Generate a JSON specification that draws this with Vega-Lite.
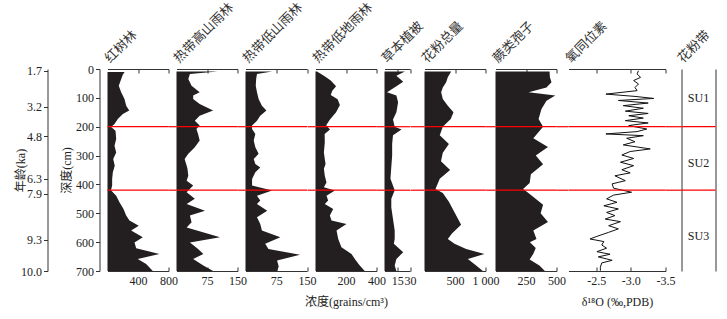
{
  "$schema": "https://vega.github.io/schema/vega-lite/v6.json",
  "padding": {"left": 14.5, "top": 0, "right": 5, "bottom": 2},
  "background": "white",
  "datasets": {
    "redlines": [{"depth": 200}, {"depth": 420}],
    "zones": [{"zone": "SU1", "depth": 100}, {"zone": "SU2", "depth": 325}, {"zone": "SU3", "depth": 580}],
    "mangrove": [{"d":10,"v":225},{"d":20,"v":200},{"d":35,"v":180},{"d":58,"v":148},{"d":81,"v":179},{"d":104,"v":223},{"d":127,"v":245},{"d":144,"v":285},{"d":156,"v":201},{"d":173,"v":135},{"d":191,"v":92},{"d":201,"v":48},{"d":214,"v":105},{"d":243,"v":114},{"d":266,"v":92},{"d":289,"v":114},{"d":312,"v":75},{"d":335,"v":95},{"d":358,"v":70},{"d":381,"v":61},{"d":404,"v":61},{"d":420,"v":45},{"d":439,"v":114},{"d":462,"v":157},{"d":485,"v":210},{"d":508,"v":245},{"d":525,"v":288},{"d":543,"v":410},{"d":560,"v":310},{"d":583,"v":463},{"d":601,"v":354},{"d":621,"v":376},{"d":641,"v":681},{"d":658,"v":397},{"d":676,"v":507},{"d":700,"v":594}],
    "montane": [{"d":9,"v":101},{"d":17,"v":33},{"d":35,"v":29},{"d":58,"v":37},{"d":81,"v":57},{"d":92,"v":41},{"d":104,"v":41},{"d":121,"v":57},{"d":144,"v":90},{"d":162,"v":57},{"d":179,"v":45},{"d":196,"v":57},{"d":208,"v":49},{"d":225,"v":53},{"d":248,"v":57},{"d":271,"v":45},{"d":294,"v":29},{"d":312,"v":20},{"d":335,"v":25},{"d":346,"v":27},{"d":370,"v":29},{"d":387,"v":25},{"d":404,"v":41},{"d":427,"v":25},{"d":450,"v":45},{"d":468,"v":25},{"d":491,"v":70},{"d":508,"v":33},{"d":531,"v":37},{"d":549,"v":25},{"d":583,"v":107},{"d":601,"v":33},{"d":624,"v":53},{"d":641,"v":66},{"d":658,"v":41},{"d":681,"v":66},{"d":700,"v":90}],
    "lowermontane": [{"d":9,"v":65},{"d":17,"v":28},{"d":35,"v":26},{"d":58,"v":25},{"d":81,"v":28},{"d":104,"v":32},{"d":127,"v":40},{"d":144,"v":51},{"d":162,"v":36},{"d":179,"v":28},{"d":196,"v":16},{"d":208,"v":16},{"d":225,"v":24},{"d":248,"v":20},{"d":271,"v":24},{"d":294,"v":32},{"d":312,"v":20},{"d":329,"v":24},{"d":341,"v":36},{"d":358,"v":24},{"d":381,"v":16},{"d":404,"v":16},{"d":421,"v":65},{"d":439,"v":28},{"d":456,"v":36},{"d":468,"v":28},{"d":491,"v":53},{"d":514,"v":28},{"d":537,"v":36},{"d":560,"v":40},{"d":583,"v":85},{"d":606,"v":48},{"d":624,"v":56},{"d":644,"v":133},{"d":664,"v":77},{"d":684,"v":81},{"d":700,"v":77}],
    "lowland": [{"d":9,"v":10},{"d":25,"v":60},{"d":40,"v":100},{"d":60,"v":135},{"d":75,"v":110},{"d":90,"v":100},{"d":105,"v":145},{"d":125,"v":160},{"d":150,"v":135},{"d":175,"v":95},{"d":195,"v":70},{"d":210,"v":95},{"d":225,"v":60},{"d":254,"v":61},{"d":289,"v":55},{"d":312,"v":61},{"d":329,"v":66},{"d":346,"v":55},{"d":370,"v":61},{"d":393,"v":72},{"d":410,"v":55},{"d":421,"v":127},{"d":439,"v":72},{"d":456,"v":83},{"d":468,"v":61},{"d":485,"v":116},{"d":508,"v":94},{"d":525,"v":105},{"d":537,"v":203},{"d":560,"v":138},{"d":589,"v":149},{"d":618,"v":170},{"d":641,"v":236},{"d":658,"v":258},{"d":681,"v":290},{"d":700,"v":323}],
    "herb": [{"d":9,"v":24},{"d":23,"v":14},{"d":44,"v":22},{"d":60,"v":14},{"d":81,"v":3},{"d":92,"v":14},{"d":115,"v":16},{"d":150,"v":14},{"d":175,"v":10},{"d":200,"v":12},{"d":210,"v":20},{"d":230,"v":10},{"d":260,"v":9},{"d":300,"v":9},{"d":340,"v":8},{"d":380,"v":7},{"d":420,"v":12},{"d":450,"v":8},{"d":480,"v":8},{"d":520,"v":10},{"d":560,"v":12},{"d":589,"v":12},{"d":606,"v":11},{"d":635,"v":22},{"d":658,"v":14},{"d":681,"v":12},{"d":700,"v":14}],
    "total": [{"d":9,"v":437},{"d":29,"v":382},{"d":46,"v":355},{"d":64,"v":300},{"d":81,"v":273},{"d":104,"v":300},{"d":127,"v":382},{"d":150,"v":475},{"d":173,"v":430},{"d":200,"v":300},{"d":230,"v":250},{"d":260,"v":400},{"d":290,"v":300},{"d":320,"v":270},{"d":350,"v":420},{"d":380,"v":250},{"d":416,"v":180},{"d":430,"v":300},{"d":460,"v":400},{"d":500,"v":500},{"d":540,"v":600},{"d":570,"v":450},{"d":589,"v":382},{"d":606,"v":492},{"d":624,"v":683},{"d":641,"v":983},{"d":658,"v":710},{"d":681,"v":847},{"d":700,"v":957}],
    "fern": [{"d":9,"v":443},{"d":29,"v":446},{"d":46,"v":459},{"d":64,"v":418},{"d":81,"v":271},{"d":92,"v":490},{"d":110,"v":418},{"d":139,"v":377},{"d":173,"v":353},{"d":200,"v":390},{"d":240,"v":310},{"d":270,"v":430},{"d":300,"v":330},{"d":330,"v":390},{"d":365,"v":290},{"d":395,"v":280},{"d":416,"v":226},{"d":430,"v":270},{"d":470,"v":390},{"d":500,"v":370},{"d":530,"v":430},{"d":560,"v":310},{"d":589,"v":336},{"d":600,"v":282},{"d":620,"v":330},{"d":641,"v":309},{"d":660,"v":280},{"d":681,"v":360},{"d":700,"v":405}],
    "oxygen": [{"d":6,"v":-3.11},{"d":17,"v":-3.09},{"d":29,"v":-3.14},{"d":40,"v":-3.04},{"d":52,"v":-3.11},{"d":64,"v":-3.06},{"d":75,"v":-3.09},{"d":87,"v":-2.64},{"d":95,"v":-3.06},{"d":102,"v":-3.33},{"d":109,"v":-2.82},{"d":118,"v":-3.25},{"d":127,"v":-2.89},{"d":136,"v":-3.18},{"d":146,"v":-2.92},{"d":154,"v":-3.25},{"d":162,"v":-2.97},{"d":170,"v":-3.18},{"d":179,"v":-2.92},{"d":187,"v":-3.25},{"d":196,"v":-2.97},{"d":208,"v":-3.23},{"d":217,"v":-3.09},{"d":225,"v":-2.64},{"d":231,"v":-3.18},{"d":240,"v":-2.94},{"d":252,"v":-3.06},{"d":263,"v":-2.89},{"d":277,"v":-3.28},{"d":286,"v":-2.99},{"d":298,"v":-2.87},{"d":310,"v":-3.04},{"d":323,"v":-2.85},{"d":335,"v":-3.04},{"d":349,"v":-2.87},{"d":360,"v":-2.99},{"d":370,"v":-2.77},{"d":387,"v":-2.92},{"d":398,"v":-2.73},{"d":413,"v":-2.75},{"d":427,"v":-3.01},{"d":437,"v":-2.75},{"d":450,"v":-2.65},{"d":462,"v":-2.8},{"d":474,"v":-2.61},{"d":485,"v":-2.82},{"d":497,"v":-2.65},{"d":508,"v":-2.77},{"d":520,"v":-2.63},{"d":529,"v":-2.85},{"d":543,"v":-2.68},{"d":554,"v":-2.82},{"d":566,"v":-2.68},{"d":580,"v":-2.51},{"d":589,"v":-2.41},{"d":598,"v":-2.61},{"d":610,"v":-2.58},{"d":621,"v":-2.65},{"d":633,"v":-2.51},{"d":642,"v":-2.7},{"d":651,"v":-2.53},{"d":663,"v":-2.73},{"d":672,"v":-2.58},{"d":687,"v":-2.56},{"d":699,"v":-2.56}]
  },
  "config": {
    "view": {"stroke": null},
    "font": "Liberation Serif, Noto Sans CJK SC",
    "axis": {"grid": false, "labelFont": "Liberation Serif", "labelFontSize": 12, "labelColor": "#222", "titleFont": "Liberation Serif, Noto Sans CJK SC", "titleFontSize": 12, "titleFontWeight": "normal", "titleColor": "#222", "domainColor": "#333", "tickColor": "#333", "labelFlush": false, "labelOverlap": false},
    "axisTop": {"titleAngle": -45, "titleAlign": "left", "titleBaseline": "alphabetic", "titleX": 2, "titleY": -6, "titleFont": "Noto Sans CJK SC", "titleFontSize": 13, "titleColor": "#333"}
  },
  "bounds": "flush",
  "spacing": 0,
  "hconcat": [
    {
      "width": 61, "height": 202,
      "data": {"name": "mangrove"},
      "layer": [
        {"mark": {"type": "area", "orient": "horizontal", "color": "#231f20"},
         "encoding": {
           "x": {"field": "v", "type": "quantitative", "scale": {"domain": [0, 800], "nice": false}, "axis": {"orient": "bottom", "values": [400, 800], "tickSize": -4, "labelPadding": 8, "title": null}},
           "y": {"field": "d", "type": "quantitative", "scale": {"domain": [0, 700], "reverse": true, "nice": false}, "axis": {"orient": "left", "offset": 8, "values": [0,100,200,300,400,500,600,700], "tickSize": 4, "labelPadding": 2, "title": "深度(cm)", "titlePadding": 2}}
         }},
        {"mark": {"type": "point", "opacity": 0},
         "encoding": {
           "x": {"field": "v", "type": "quantitative", "axis": {"orient": "top", "values": [400, 800], "tickSize": -4, "labels": false, "title": "红树林"}},
           "y": {"field": "d", "type": "quantitative", "axis": null}
         }},
        {"data": {"name": "redlines"},
         "mark": {"type": "rule", "color": "#ff0000", "strokeWidth": 1.2},
         "encoding": {
           "y": {"field": "depth", "type": "quantitative", "axis": {"orient": "left", "offset": 60, "values": [6,130,233,381,433,591,700], "labelExpr": "datum.value==6?'1.7':datum.value==130?'3.2':datum.value==233?'4.8':datum.value==381?'6.3':datum.value==433?'7.9':datum.value==591?'9.3':'10.0'", "tickSize": 4, "labelPadding": 2, "title": "年龄(ka)", "titlePadding": -7}}
         }}
      ],
      "resolve": {"axis": {"x": "independent", "y": "independent"}}
    },
    {"width": 7.7, "height": 202, "data": {"name": "redlines"}, "mark": {"type": "rule", "color": "#ff0000", "strokeWidth": 1.2}, "encoding": {"y": {"field": "depth", "type": "quantitative", "scale": {"domain": [0, 700], "reverse": true, "nice": false}, "axis": null}}},
    {
      "width": 61, "height": 202,
      "data": {"name": "montane"},
      "layer": [
        {"mark": {"type": "area", "orient": "horizontal", "color": "#231f20"},
         "encoding": {
           "x": {"field": "v", "type": "quantitative", "scale": {"domain": [0, 150], "nice": false}, "axis": {"orient": "bottom", "values": [75, 150], "tickSize": -4, "labelPadding": 8, "title": null}},
           "y": {"field": "d", "type": "quantitative", "scale": {"domain": [0, 700], "reverse": true, "nice": false}, "axis": null}
         }},
        {"mark": {"type": "point", "opacity": 0},
         "encoding": {
           "x": {"field": "v", "type": "quantitative", "axis": {"orient": "top", "values": [75, 150], "tickSize": -4, "labels": false, "title": "热带高山雨林"}},
           "y": {"field": "d", "type": "quantitative", "axis": null}
         }},
        {"data": {"name": "redlines"},
         "mark": {"type": "rule", "color": "#ff0000", "strokeWidth": 1.2},
         "encoding": {"y": {"field": "depth", "type": "quantitative", "axis": null}}}
      ],
      "resolve": {"axis": {"x": "independent"}}
    },
    {"width": 7.7, "height": 202, "data": {"name": "redlines"}, "mark": {"type": "rule", "color": "#ff0000", "strokeWidth": 1.2}, "encoding": {"y": {"field": "depth", "type": "quantitative", "scale": {"domain": [0, 700], "reverse": true, "nice": false}, "axis": null}}},
    {
      "width": 61.5, "height": 202,
      "data": {"name": "lowermontane"},
      "layer": [
        {"mark": {"type": "area", "orient": "horizontal", "color": "#231f20"},
         "encoding": {
           "x": {"field": "v", "type": "quantitative", "scale": {"domain": [0, 150], "nice": false}, "axis": {"orient": "bottom", "values": [75, 150], "tickSize": -4, "labelPadding": 8, "title": null}},
           "y": {"field": "d", "type": "quantitative", "scale": {"domain": [0, 700], "reverse": true, "nice": false}, "axis": null}
         }},
        {"mark": {"type": "point", "opacity": 0},
         "encoding": {
           "x": {"field": "v", "type": "quantitative", "axis": {"orient": "top", "values": [75, 150], "tickSize": -4, "labels": false, "title": "热带低山雨林"}},
           "y": {"field": "d", "type": "quantitative", "axis": null}
         }},
        {"data": {"name": "redlines"},
         "mark": {"type": "rule", "color": "#ff0000", "strokeWidth": 1.2},
         "encoding": {"y": {"field": "depth", "type": "quantitative", "axis": null}}}
      ],
      "resolve": {"axis": {"x": "independent"}}
    },
    {"width": 7.5, "height": 202, "data": {"name": "redlines"}, "mark": {"type": "rule", "color": "#ff0000", "strokeWidth": 1.2}, "encoding": {"y": {"field": "depth", "type": "quantitative", "scale": {"domain": [0, 700], "reverse": true, "nice": false}, "axis": null}}},
    {
      "width": 61, "height": 202,
      "data": {"name": "lowland"},
      "layer": [
        {"mark": {"type": "area", "orient": "horizontal", "color": "#231f20"},
         "encoding": {
           "x": {"field": "v", "type": "quantitative", "scale": {"domain": [0, 400], "nice": false}, "axis": {"orient": "bottom", "values": [200, 400], "tickSize": -4, "labelPadding": 8, "title": "浓度(grains/cm³)", "titlePadding": 10}},
           "y": {"field": "d", "type": "quantitative", "scale": {"domain": [0, 700], "reverse": true, "nice": false}, "axis": null}
         }},
        {"mark": {"type": "point", "opacity": 0},
         "encoding": {
           "x": {"field": "v", "type": "quantitative", "axis": {"orient": "top", "values": [200, 400], "tickSize": -4, "labels": false, "title": "热带低地雨林"}},
           "y": {"field": "d", "type": "quantitative", "axis": null}
         }},
        {"data": {"name": "redlines"},
         "mark": {"type": "rule", "color": "#ff0000", "strokeWidth": 1.2},
         "encoding": {"y": {"field": "depth", "type": "quantitative", "axis": null}}}
      ],
      "resolve": {"axis": {"x": "independent"}}
    },
    {"width": 7.7, "height": 202, "data": {"name": "redlines"}, "mark": {"type": "rule", "color": "#ff0000", "strokeWidth": 1.2}, "encoding": {"y": {"field": "depth", "type": "quantitative", "scale": {"domain": [0, 700], "reverse": true, "nice": false}, "axis": null}}},
    {
      "width": 25.5, "height": 202,
      "data": {"name": "herb"},
      "layer": [
        {"mark": {"type": "area", "orient": "horizontal", "color": "#231f20"},
         "encoding": {
           "x": {"field": "v", "type": "quantitative", "scale": {"domain": [0, 30], "nice": false}, "axis": {"orient": "bottom", "values": [15, 30], "tickSize": -4, "labelPadding": 8, "title": null}},
           "y": {"field": "d", "type": "quantitative", "scale": {"domain": [0, 700], "reverse": true, "nice": false}, "axis": null}
         }},
        {"mark": {"type": "point", "opacity": 0},
         "encoding": {
           "x": {"field": "v", "type": "quantitative", "axis": {"orient": "top", "values": [15, 30], "tickSize": -4, "labels": false, "title": "草本植被"}},
           "y": {"field": "d", "type": "quantitative", "axis": null}
         }},
        {"data": {"name": "redlines"},
         "mark": {"type": "rule", "color": "#ff0000", "strokeWidth": 1.2},
         "encoding": {"y": {"field": "depth", "type": "quantitative", "axis": null}}}
      ],
      "resolve": {"axis": {"x": "independent"}}
    },
    {"width": 13.5, "height": 202, "data": {"name": "redlines"}, "mark": {"type": "rule", "color": "#ff0000", "strokeWidth": 1.2}, "encoding": {"y": {"field": "depth", "type": "quantitative", "scale": {"domain": [0, 700], "reverse": true, "nice": false}, "axis": null}}},
    {
      "width": 61, "height": 202,
      "data": {"name": "total"},
      "layer": [
        {"mark": {"type": "area", "orient": "horizontal", "color": "#231f20"},
         "encoding": {
           "x": {"field": "v", "type": "quantitative", "scale": {"domain": [0, 1000], "nice": false}, "axis": {"orient": "bottom", "values": [500, 1000], "labelExpr": "datum.value==1000?'1 000':datum.label", "tickSize": -4, "labelPadding": 8, "title": null}},
           "y": {"field": "d", "type": "quantitative", "scale": {"domain": [0, 700], "reverse": true, "nice": false}, "axis": null}
         }},
        {"mark": {"type": "point", "opacity": 0},
         "encoding": {
           "x": {"field": "v", "type": "quantitative", "axis": {"orient": "top", "values": [500, 1000], "tickSize": -4, "labels": false, "title": "花粉总量"}},
           "y": {"field": "d", "type": "quantitative", "axis": null}
         }},
        {"data": {"name": "redlines"},
         "mark": {"type": "rule", "color": "#ff0000", "strokeWidth": 1.2},
         "encoding": {"y": {"field": "depth", "type": "quantitative", "axis": null}}}
      ],
      "resolve": {"axis": {"x": "independent"}}
    },
    {"width": 9.5, "height": 202, "data": {"name": "redlines"}, "mark": {"type": "rule", "color": "#ff0000", "strokeWidth": 1.2}, "encoding": {"y": {"field": "depth", "type": "quantitative", "scale": {"domain": [0, 700], "reverse": true, "nice": false}, "axis": null}}},
    {
      "width": 61, "height": 202,
      "data": {"name": "fern"},
      "layer": [
        {"mark": {"type": "area", "orient": "horizontal", "color": "#231f20"},
         "encoding": {
           "x": {"field": "v", "type": "quantitative", "scale": {"domain": [0, 500], "nice": false}, "axis": {"orient": "bottom", "values": [250, 500], "tickSize": -4, "labelPadding": 8, "title": null}},
           "y": {"field": "d", "type": "quantitative", "scale": {"domain": [0, 700], "reverse": true, "nice": false}, "axis": null}
         }},
        {"mark": {"type": "point", "opacity": 0},
         "encoding": {
           "x": {"field": "v", "type": "quantitative", "axis": {"orient": "top", "values": [250, 500], "tickSize": -4, "labels": false, "title": "蕨类孢子"}},
           "y": {"field": "d", "type": "quantitative", "axis": {"orient": "right", "values": [100,200,300,400,500,600], "tickSize": -3, "labels": false, "domain": false, "title": null}}
         }},
        {"data": {"name": "redlines"},
         "mark": {"type": "rule", "color": "#ff0000", "strokeWidth": 1.2},
         "encoding": {"y": {"field": "depth", "type": "quantitative", "axis": null}}}
      ],
      "resolve": {"axis": {"x": "independent"}}
    },
    {"width": 11.7, "height": 202, "data": {"name": "redlines"}, "mark": {"type": "rule", "color": "#ff0000", "strokeWidth": 1.2}, "encoding": {"y": {"field": "depth", "type": "quantitative", "scale": {"domain": [0, 700], "reverse": true, "nice": false}, "axis": null}}},
    {
      "width": 97, "height": 202,
      "data": {"name": "oxygen"},
      "layer": [
        {"mark": {"type": "line", "color": "#111", "strokeWidth": 1},
         "encoding": {
           "x": {"field": "v", "type": "quantitative", "scale": {"domain": [-2.1, -3.5], "nice": false, "zero": false}, "axis": {"orient": "bottom", "values": [-2.5, -3, -3.5], "labelExpr": "replace(format(datum.value, '.1f'), '−', '-')", "tickSize": -4, "labelPadding": 8, "title": "δ¹⁸O (‰,PDB)", "titlePadding": 10}},
           "y": {"field": "d", "type": "quantitative", "scale": {"domain": [0, 700], "reverse": true, "nice": false}, "axis": {"orient": "left", "ticks": false, "labels": false, "title": null, "domain": true}},
           "order": {"field": "d", "type": "quantitative"}
         }},
        {"mark": {"type": "point", "opacity": 0},
         "encoding": {
           "x": {"field": "v", "type": "quantitative", "axis": {"orient": "top", "values": [-2.5, -3, -3.5], "tickSize": -4, "labels": false, "title": "氧同位素"}},
           "y": {"field": "d", "type": "quantitative", "axis": null}
         }},
        {"data": {"name": "redlines"},
         "mark": {"type": "rule", "color": "#ff0000", "strokeWidth": 1.2},
         "encoding": {"y": {"field": "depth", "type": "quantitative", "axis": null}}}
      ],
      "resolve": {"axis": {"x": "independent"}}
    },
    {"width": 16, "height": 202, "data": {"name": "redlines"}, "mark": {"type": "rule", "color": "#ff0000", "strokeWidth": 1.2}, "encoding": {"y": {"field": "depth", "type": "quantitative", "scale": {"domain": [0, 700], "reverse": true, "nice": false}, "axis": null}}},
    {
      "width": 34, "height": 202,
      "layer": [
        {"data": {"name": "zones"},
         "mark": {"type": "text", "font": "Liberation Serif", "fontSize": 12, "color": "#222"},
         "encoding": {
           "x": {"datum": "花粉带", "type": "nominal", "axis": {"orient": "top", "labels": false, "ticks": false, "domain": false, "title": "花粉带", "titleX": 1}},
           "y": {"field": "depth", "type": "quantitative", "scale": {"domain": [0, 700], "reverse": true, "nice": false}, "axis": {"orient": "left", "ticks": false, "labels": false, "title": null, "domain": true}},
           "text": {"field": "zone"}
         }},
        {"data": {"name": "redlines"},
         "mark": {"type": "rule", "color": "#ff0000", "strokeWidth": 1.2},
         "encoding": {"y": {"field": "depth", "type": "quantitative", "axis": {"orient": "right", "ticks": false, "labels": false, "title": null, "domain": true}}}}
      ],
      "resolve": {"axis": {"y": "independent"}}
    }
  ]
}
